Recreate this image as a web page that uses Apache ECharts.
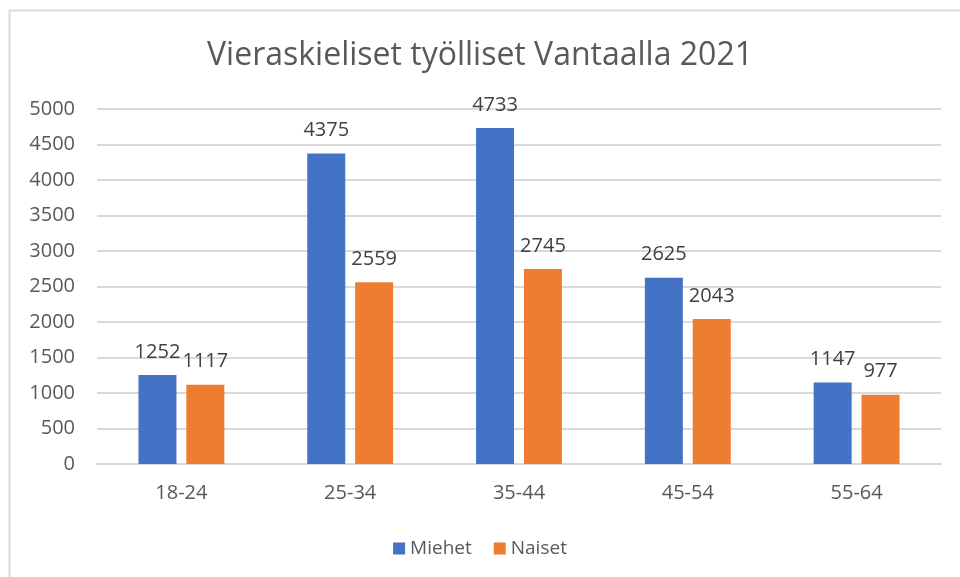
<!DOCTYPE html>
<html>
<head>
<meta charset="utf-8">
<script src="https://cdn.jsdelivr.net/npm/echarts@6/dist/echarts.min.js"></script>
<style>
  html, body { margin: 0; padding: 0; background: #fff; }
  #chart { width: 960px; height: 577px; }
</style>
</head>
<body>
<div id="chart"></div>
<script>
var categories = ['18-24', '25-34', '35-44', '45-54', '55-64'];
var miehet = [1252, 4375, 4733, 2625, 1147];
var naiset = [1117, 2559, 2745, 2043, 977];
var yTicks = { min: 0, max: 5000, interval: 500 };

var textColor = '#595959';
var font = 'Open Sans';

var option = {
  animation: false,
  textStyle: { fontFamily: font },
  title: {
    text: 'Vieraskieliset työlliset Vantaalla 2021',
    left: 'center',
    top: 35,
    textStyle: { fontFamily: font, fontSize: 32, fontWeight: 'normal', color: textColor }
  },
  legend: {
    bottom: 14,
    left: 'center',
    itemWidth: 12,
    itemHeight: 12,
    itemGap: 22,
    icon: 'rect',
    textStyle: { fontFamily: font, fontSize: 19, color: textColor },
    data: ['Miehet', 'Naiset']
  },
  graphic: [{
    type: 'rect',
    shape: { x: 9.5, y: 10.5, width: 1000, height: 700 },
    style: { fill: 'none', stroke: '#d9d9d9', lineWidth: 2 },
    silent: true
  }],
  grid: { left: 97, right: 19, top: 109, bottom: 113 },
  xAxis: {
    type: 'category',
    data: categories,
    axisLine: { lineStyle: { color: '#d9d9d9', width: 2 } },
    axisTick: { show: false },
    axisLabel: { color: textColor, fontSize: 20, margin: 19, fontFamily: font }
  },
  yAxis: {
    type: 'value',
    min: yTicks.min,
    max: yTicks.max,
    interval: yTicks.interval,
    axisLine: { show: false },
    axisTick: { show: false },
    splitLine: { lineStyle: { color: '#d9d9d9', width: 2 } },
    axisLabel: { color: textColor, fontSize: 20, margin: 22, fontFamily: font, formatter: function (v) { return String(v); } }
  },
  series: [
    {
      name: 'Miehet',
      type: 'bar',
      data: miehet,
      barWidth: 38,
      barGap: '26%',
      itemStyle: { color: '#4472C4' },
      label: { show: true, position: 'top', distance: 13, fontSize: 20, color: '#404040', fontFamily: font }
    },
    {
      name: 'Naiset',
      type: 'bar',
      data: naiset,
      barWidth: 38,
      itemStyle: { color: '#ED7D31' },
      label: { show: true, position: 'top', distance: 13, fontSize: 20, color: '#404040', fontFamily: font }
    }
  ]
};

var myChart = echarts.init(document.getElementById('chart'));
myChart.setOption(option);
</script>
</body>
</html>
